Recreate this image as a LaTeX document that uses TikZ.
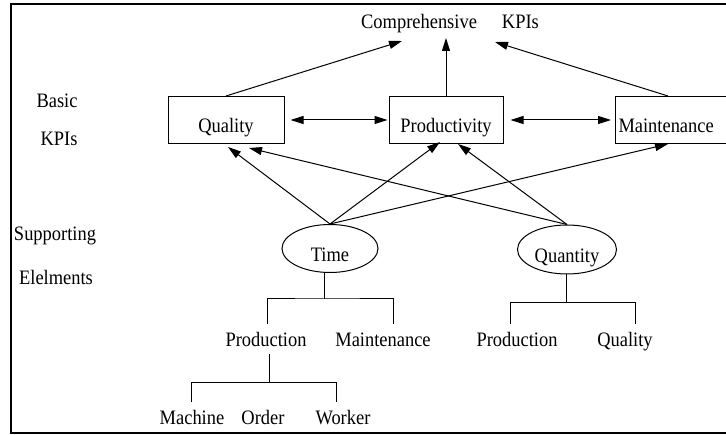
\documentclass[tikz,border=0pt]{standalone}
\usepackage{fontspec}
\setmainfont[FakeStretch=0.9]{Liberation Serif}
\usetikzlibrary{arrows.meta,calc,shapes.geometric}
\begin{document}
\begin{tikzpicture}[x=1pt,y=-1pt,
  font=\fontsize{20.5}{24}\selectfont,
  line width=1pt,
  kpibox/.style={draw, rectangle, inner ysep=0pt, inner xsep=0pt,
    minimum height=47pt, text height=28pt, text depth=3pt},
  elem/.style={draw, ellipse, inner sep=0pt, minimum height=48pt,
    text height=30pt, text depth=3pt},
  lbl/.style={anchor=base, inner xsep=1pt, inner ysep=3pt,
    text height=19pt, text depth=4pt},
  side/.style={anchor=base, inner sep=0pt},
  arr/.style={-{Triangle[length=13pt,width=8pt]}},
  dbl/.style={{Triangle[length=13pt,width=8pt]}-{Triangle[length=13pt,width=8pt]}},
]
\useasboundingbox (0,0) rectangle (726,435);

% outer frame (open on the right)
\draw[line width=2pt] (730,4) -- (11,4) -- (11,433.5) -- (730,433.5);

% headline
\node[side] (comp) at (450,29) {Comprehensive\hspace{25pt}KPIs};

% row labels
\node[side] (basic) at (57,108) {Basic};
\node[side] (kpis) at (59,146) {KPIs};
\node[side] (supp) at (55,241) {Supporting};
\node[side] (elem) at (56,285) {Elelments};

% basic KPIs
\node[kpibox, minimum width=116pt] (quality) at (226,120) {Quality};
\node[kpibox, minimum width=114pt] (prod) at (446,120) {Productivity};
\node[kpibox, anchor=west, text width=124pt, align=left, inner xsep=3pt]
  (maint) at (615,120) {Maintenance};

% supporting elements
\node[elem, minimum width=96pt] (time) at (330,248.5) {Time};
\node[elem, minimum width=99pt, minimum height=49pt] (qty) at (567,249.5) {Quantity};

% sub-elements
\node[lbl] (prodA) at (266,347) {Production};
\node[lbl] (maintT) at (383,347) {Maintenance};
\node[lbl] (prodB) at (517,347) {Production};
\node[lbl] (qualB) at (625,347) {Quality};
\node[lbl] (mach) at (192,425) {Machine};
\node[lbl] (ord) at (263,425) {Order};
\node[lbl] (work) at (343,425) {Worker};

% basic KPIs feed the comprehensive KPIs
\draw[arr] (quality.north) -- ($(comp.base)+(-48,12)$);
\draw[arr] (prod.north) -- ($(comp.base)+(-4,9)$);
\draw[arr] ($(maint.north west)+(53,0)$) -- ($(comp.base)+(45,13)$);

% links between basic KPIs
\draw[dbl] ($(quality.east)+(6,0)$) -- ($(prod.west)+(-1,0)$);
\draw[dbl] ($(prod.east)+(7,0)$) -- ($(maint.west)+(-4,0)$);

% supporting elements feed the basic KPIs
\draw[arr] (time.north) -- ($(quality.south)+(2,3)$);
\draw[arr] (time.north) -- ($(prod.south)+(-6,-2)$);
\draw[arr] (time.north) -- ($(maint.south west)+(53,0)$);
\draw[arr] (qty.north) -- ($(quality.south)+(23,4)$);
\draw[arr] (qty.north) -- ($(prod.south)+(12,0)$);

% time breakdown
\draw ($(time.south)+(-6,0)$) -- ++(0,26) coordinate (tj);
\draw ($(prodA.north)+(1,0)$) |- (tj) -| ($(maintT.north)+(10,0)$);

% production time breakdown
\draw ($(prodA.south)+(3,0)$) -- ++(0,28) coordinate (pj);
\draw ($(mach.north)+(-1,0)$) |- (pj) -| ($(work.north)+(-7,0)$);
\draw ($(ord.north)+(-2,0)$) -- ($(ord.north)+(-2,0)$ |- pj);

% quantity breakdown
\draw ($(qty.south)+(-1,0)$) -- ++(0,28) coordinate (qj);
\draw ($(prodB.north)+(-7,0)$) |- (qj) -| ($(qualB.north)+(10,0)$);
\end{tikzpicture}
\end{document}
